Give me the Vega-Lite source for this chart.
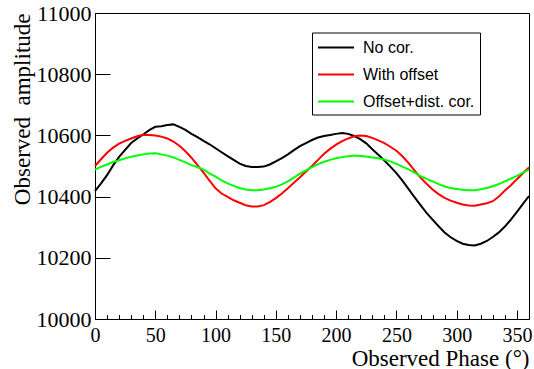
{
  "$schema": "https://vega.github.io/schema/vega-lite/v6.json",
  "width": 434,
  "height": 306,
  "autosize": {"type": "none"},
  "padding": {"left": 95, "top": 13, "right": 5, "bottom": 50},
  "background": "white",
  "config": {
    "view": {"stroke": "#000", "strokeWidth": 1},
    "axis": {"domainColor": "#000", "tickColor": "#000", "labelColor": "#000", "titleColor": "#000", "labelFont": "Liberation Serif", "titleFont": "Liberation Serif", "labelFontSize": 22, "titleFontSize": 23, "titleFontWeight": "normal", "grid": false, "labelFlush": false, "labelOverlap": false},
    "legend": {"orient": "none", "legendX": 217, "legendY": 19.5, "padding": 5, "strokeColor": "#000", "fillColor": "#fff", "symbolType": "M-2,0H2", "symbolSize": 324, "symbolOffset": 9, "symbolStrokeWidth": 2, "labelFont": "Liberation Sans", "labelFontSize": 16, "labelColor": "#000", "labelOffset": 17, "rowPadding": 9}
  },
  "encoding": {
    "x": {"field": "p", "type": "quantitative", "scale": {"domain": [0, 360], "nice": false, "zero": false},
      "axis": {"title": "Observed Phase (°)", "values": [0,10,20,30,40,50,60,70,80,90,100,110,120,130,140,150,160,170,180,190,200,210,220,230,240,250,260,270,280,290,300,310,320,330,340,350],
        "tickSize": {"condition": {"test": "datum.value % 50 === 0", "value": -9}, "value": -4.5},
        "labelExpr": "datum.value % 50 === 0 ? datum.label : ''", "labelPadding": 15, "labelFontSize": 20,
        "titleX": 434, "titleY": 46, "titleAlign": "right", "titleBaseline": "alphabetic"}},
    "y": {"field": "v", "type": "quantitative", "scale": {"domain": [10000, 11000], "nice": false, "zero": false},
      "axis": {"title": "Observed\u00a0 amplitude", "values": [10000, 10200, 10400, 10600, 10800, 11000], "format": "d", "tickSize": -15, "labelPadding": 19,
        "titleX": -66, "titleY": 0, "titleAngle": -90, "titleAlign": "right", "titleBaseline": "alphabetic"}}
  },
  "layer": [
    {
      "data": {"values": [
        {"p":0,"v":10418},{"p":5,"v":10443},{"p":10,"v":10470},{"p":15,"v":10502},{"p":20,"v":10530},{"p":25,"v":10553},{"p":30,"v":10575},{"p":35,"v":10590},{"p":40,"v":10603},{"p":45,"v":10617},{"p":50,"v":10628},{"p":55,"v":10630},{"p":60,"v":10634},{"p":65,"v":10636},{"p":70,"v":10628},{"p":75,"v":10618},{"p":80,"v":10605},{"p":85,"v":10594},{"p":90,"v":10582},{"p":95,"v":10571},{"p":100,"v":10558},{"p":105,"v":10545},{"p":110,"v":10532},{"p":115,"v":10520},{"p":120,"v":10508},{"p":125,"v":10500},{"p":130,"v":10497},{"p":135,"v":10497},{"p":140,"v":10498},{"p":145,"v":10505},{"p":150,"v":10515},{"p":155,"v":10526},{"p":160,"v":10538},{"p":165,"v":10552},{"p":170,"v":10565},{"p":175,"v":10575},{"p":180,"v":10585},{"p":185,"v":10593},{"p":190,"v":10598},{"p":195,"v":10601},{"p":200,"v":10605},{"p":205,"v":10608},{"p":210,"v":10605},{"p":215,"v":10598},{"p":220,"v":10588},{"p":225,"v":10574},{"p":230,"v":10555},{"p":235,"v":10537},{"p":240,"v":10518},{"p":245,"v":10498},{"p":250,"v":10477},{"p":255,"v":10452},{"p":260,"v":10425},{"p":265,"v":10398},{"p":270,"v":10372},{"p":275,"v":10347},{"p":280,"v":10325},{"p":285,"v":10303},{"p":290,"v":10283},{"p":295,"v":10267},{"p":300,"v":10255},{"p":305,"v":10246},{"p":310,"v":10242},{"p":315,"v":10240},{"p":320,"v":10246},{"p":325,"v":10255},{"p":330,"v":10268},{"p":335,"v":10283},{"p":340,"v":10302},{"p":345,"v":10325},{"p":350,"v":10350},{"p":355,"v":10376},{"p":360,"v":10402}
      ]},
      "mark": {"type": "line", "strokeWidth": 2},
      "encoding": {"color": {"datum": "No cor.", "type": "nominal", "scale": {"domain": ["No cor.", "With offset", "Offset+dist. cor."], "range": ["#000000", "#ff0000", "#00ff00"]}, "legend": {"title": null}}}
    },
    {
      "data": {"values": [
        {"p":0,"v":10500},{"p":5,"v":10522},{"p":10,"v":10543},{"p":15,"v":10560},{"p":20,"v":10573},{"p":25,"v":10582},{"p":30,"v":10590},{"p":35,"v":10597},{"p":40,"v":10602},{"p":45,"v":10601},{"p":50,"v":10600},{"p":55,"v":10596},{"p":60,"v":10590},{"p":65,"v":10580},{"p":70,"v":10566},{"p":75,"v":10548},{"p":80,"v":10527},{"p":85,"v":10503},{"p":90,"v":10478},{"p":95,"v":10452},{"p":100,"v":10427},{"p":105,"v":10410},{"p":110,"v":10399},{"p":115,"v":10388},{"p":120,"v":10380},{"p":125,"v":10372},{"p":130,"v":10368},{"p":135,"v":10368},{"p":140,"v":10372},{"p":145,"v":10382},{"p":150,"v":10395},{"p":155,"v":10410},{"p":160,"v":10427},{"p":165,"v":10445},{"p":170,"v":10463},{"p":175,"v":10482},{"p":180,"v":10500},{"p":185,"v":10520},{"p":190,"v":10540},{"p":195,"v":10556},{"p":200,"v":10570},{"p":205,"v":10581},{"p":210,"v":10590},{"p":215,"v":10597},{"p":220,"v":10600},{"p":225,"v":10598},{"p":230,"v":10592},{"p":235,"v":10584},{"p":240,"v":10575},{"p":245,"v":10563},{"p":250,"v":10550},{"p":255,"v":10532},{"p":260,"v":10510},{"p":265,"v":10486},{"p":270,"v":10462},{"p":275,"v":10442},{"p":280,"v":10423},{"p":285,"v":10408},{"p":290,"v":10396},{"p":295,"v":10387},{"p":300,"v":10380},{"p":305,"v":10374},{"p":310,"v":10371},{"p":315,"v":10370},{"p":320,"v":10374},{"p":325,"v":10378},{"p":330,"v":10385},{"p":335,"v":10400},{"p":340,"v":10420},{"p":345,"v":10437},{"p":350,"v":10457},{"p":355,"v":10476},{"p":360,"v":10495}
      ]},
      "mark": {"type": "line", "strokeWidth": 2},
      "encoding": {"color": {"datum": "With offset", "type": "nominal"}}
    },
    {
      "data": {"values": [
        {"p":0,"v":10488},{"p":5,"v":10497},{"p":10,"v":10505},{"p":15,"v":10513},{"p":20,"v":10519},{"p":25,"v":10525},{"p":30,"v":10530},{"p":35,"v":10534},{"p":40,"v":10538},{"p":45,"v":10541},{"p":50,"v":10542},{"p":55,"v":10538},{"p":60,"v":10534},{"p":65,"v":10528},{"p":70,"v":10520},{"p":75,"v":10512},{"p":80,"v":10503},{"p":85,"v":10496},{"p":90,"v":10488},{"p":95,"v":10476},{"p":100,"v":10465},{"p":105,"v":10453},{"p":110,"v":10443},{"p":115,"v":10435},{"p":120,"v":10428},{"p":125,"v":10423},{"p":130,"v":10421},{"p":135,"v":10421},{"p":140,"v":10423},{"p":145,"v":10427},{"p":150,"v":10432},{"p":155,"v":10440},{"p":160,"v":10450},{"p":165,"v":10462},{"p":170,"v":10475},{"p":175,"v":10486},{"p":180,"v":10496},{"p":185,"v":10506},{"p":190,"v":10514},{"p":195,"v":10520},{"p":200,"v":10525},{"p":205,"v":10529},{"p":210,"v":10532},{"p":215,"v":10534},{"p":220,"v":10533},{"p":225,"v":10531},{"p":230,"v":10528},{"p":235,"v":10525},{"p":240,"v":10521},{"p":245,"v":10515},{"p":250,"v":10507},{"p":255,"v":10498},{"p":260,"v":10489},{"p":265,"v":10478},{"p":270,"v":10467},{"p":275,"v":10458},{"p":280,"v":10450},{"p":285,"v":10441},{"p":290,"v":10433},{"p":295,"v":10428},{"p":300,"v":10425},{"p":305,"v":10422},{"p":310,"v":10421},{"p":315,"v":10421},{"p":320,"v":10424},{"p":325,"v":10428},{"p":330,"v":10434},{"p":335,"v":10441},{"p":340,"v":10450},{"p":345,"v":10459},{"p":350,"v":10468},{"p":355,"v":10478},{"p":360,"v":10488}
      ]},
      "mark": {"type": "line", "strokeWidth": 2},
      "encoding": {"color": {"datum": "Offset+dist. cor.", "type": "nominal"}}
    }
  ]
}
